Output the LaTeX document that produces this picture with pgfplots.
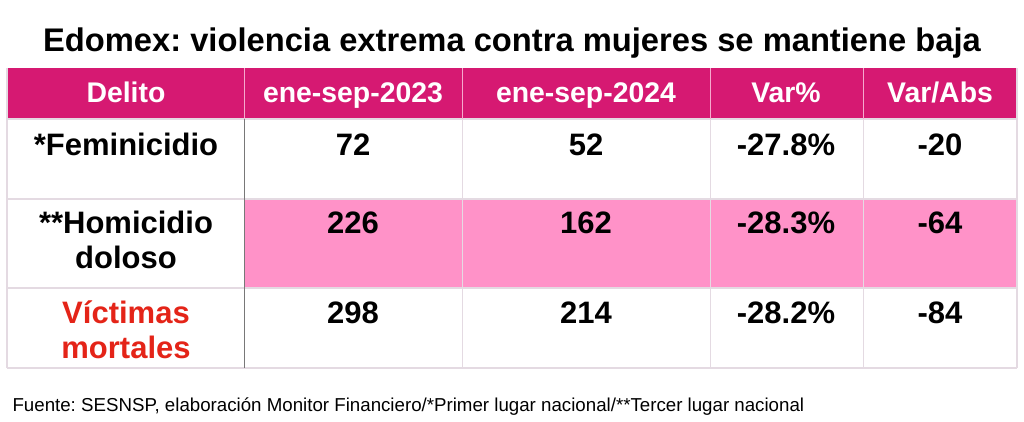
\documentclass[border=0pt]{standalone}
\usepackage{pgfplots}
\pgfplotsset{compat=1.18}
\usepackage{fontspec}
\setmainfont{Liberation Sans}
\frenchspacing
\definecolor{hdr}{RGB}{214,25,114}
\definecolor{rowpink}{RGB}{255,146,200}
\definecolor{redtxt}{RGB}{228,36,24}
\definecolor{gridl}{RGB}{228,218,226}
\definecolor{hdrl}{RGB}{245,170,205}
\definecolor{darkl}{RGB}{120,120,120}
\tikzset{hd/.style={anchor=base, text=white, font=\fontsize{28.4}{32}\selectfont\bfseries},
  bd/.style={anchor=base, font=\fontsize{31}{35}\selectfont\bfseries}}
\begin{document}
\begin{tikzpicture}
\begin{axis}[
  width=1024pt, height=421pt, scale only axis,
  xmin=0, xmax=1024, ymin=0, ymax=421, y dir=reverse,
  hide axis, clip=false,
]
% background
\addplot[fill=white, draw=none] coordinates {(0,0) (1024,0) (1024,421) (0,421)} --cycle;
% header row
\addplot[fill=hdr, draw=none] coordinates {(7,68) (1017,68) (1017,119) (7,119)} --cycle;
% pink row
\addplot[fill=rowpink, draw=none] coordinates {(244,199) (1017,199) (1017,288) (244,288)} --cycle;
% horizontal rules
\addplot[gridl, line width=1.2pt] coordinates {(7,119) (1017,119)};
\addplot[gridl, line width=1.2pt] coordinates {(7,199) (1017,199)};
\addplot[gridl, line width=1.2pt] coordinates {(7,288) (1017,288)};
\addplot[gridl, line width=1.5pt] coordinates {(7,368) (1017,368)};
\addplot[gridl, line width=1.2pt] coordinates {(7,68) (7,368)};
\addplot[gridl, line width=1.2pt] coordinates {(1017,68) (1017,368)};
% vertical rules in header
\addplot[hdrl, line width=1pt] coordinates {(244,68) (244,119)};
\addplot[hdrl, line width=1pt] coordinates {(462,68) (462,119)};
\addplot[hdrl, line width=1pt] coordinates {(710,68) (710,119)};
\addplot[hdrl, line width=1pt] coordinates {(863,68) (863,119)};
% vertical rules in body
\addplot[darkl, line width=1pt] coordinates {(244,119) (244,368)};
\addplot[gridl, line width=1pt] coordinates {(462,119) (462,368)};
\addplot[gridl, line width=1pt] coordinates {(710,119) (710,368)};
\addplot[gridl, line width=1pt] coordinates {(863,119) (863,368)};

% title
\node[anchor=base, font=\fontsize{32.7}{36}\selectfont\bfseries] at (axis cs:512,51) {Edomex: violencia extrema contra mujeres se mantiene baja};
% header text
\node[hd] at (axis cs:126,102) {Delito};
\node[hd] at (axis cs:353,102) {ene-sep-2023};
\node[hd] at (axis cs:586,102) {ene-sep-2024};
\node[hd] at (axis cs:786,102) {Var\%};
\node[hd] at (axis cs:940,102) {Var/Abs};
% body
\node[bd] at (axis cs:126,155) {*Feminicidio};
\node[bd] at (axis cs:126,233) {**Homicidio};
\node[bd] at (axis cs:126,268) {doloso};
\node[bd, text=redtxt] at (axis cs:126,323) {Víctimas};
\node[bd, text=redtxt] at (axis cs:126,358) {mortales};

\node[bd] at (axis cs:353,155) {72};
\node[bd] at (axis cs:586,155) {52};
\node[bd] at (axis cs:786,155) {-27.8\%};
\node[bd] at (axis cs:940,155) {-20};

\node[bd] at (axis cs:353,233) {226};
\node[bd] at (axis cs:586,233) {162};
\node[bd] at (axis cs:786,233) {-28.3\%};
\node[bd] at (axis cs:940,233) {-64};

\node[bd] at (axis cs:353,323) {298};
\node[bd] at (axis cs:586,323) {214};
\node[bd] at (axis cs:786,323) {-28.2\%};
\node[bd] at (axis cs:940,323) {-84};

% footnote
\node[anchor=base west, font=\fontsize{18.7}{21}\selectfont] at (axis cs:9,411) {Fuente: SESNSP, elaboración Monitor Financiero/*Primer lugar nacional/**Tercer lugar nacional};
\end{axis}
\end{tikzpicture}
\end{document}
